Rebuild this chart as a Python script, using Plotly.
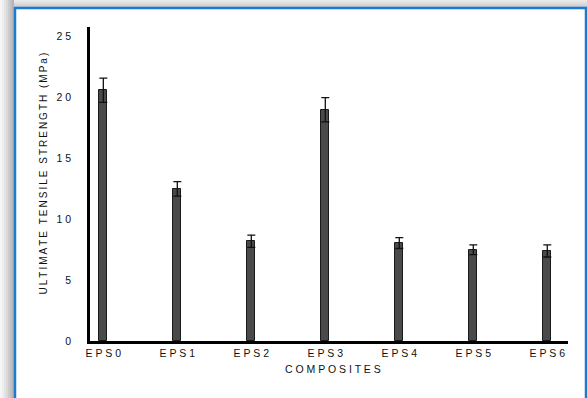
import plotly.graph_objects as go

categories = ["E P S 0", "E P S 1", "E P S 2", "E P S 3", "E P S 4", "E P S 5", "E P S 6"]
strength = [20.6, 12.5, 8.2, 19.0, 8.05, 7.5, 7.4]
errors = [1.0, 0.6, 0.5, 1.0, 0.45, 0.4, 0.5]
y_tick_vals = [0, 5, 10, 15, 20, 25]
y_tick_text = ["0", "5", "1 0", "1 5", "2 0", "2 5"]
x_title = "C O M P O S I T E S"
y_title = "ULTIMATE TENSILE STRENGTH (MPa)"

W, H = 587, 398
ML, MR, MT, MB = 90, 19, 27, 57
PW, PH = W - ML - MR, H - MT - MB

def px(x):
    return (x - ML) / PW

def py(y):
    return (H - MB - y) / PH

def spaced(s):
    return "\u2009".join(s)

positions = list(range(len(categories)))

fig = go.Figure()
fig.add_trace(go.Bar(
    x=positions, y=strength, width=0.108,
    marker=dict(color="#4a4a4a", line=dict(color="#1a1a1a", width=1)),
    error_y=dict(type="data", array=errors, visible=True, color="#111111",
                 thickness=1.3, width=4),
    showlegend=False,
))

shapes = []
grays_left = ["#f6f6f6", "#eeeeee", "#e4e4e4", "#d9d9d9", "#cccccc", "#c0c0c0", "#b4b4b4"]
for i, c in enumerate(grays_left):
    shapes.append(dict(type="rect", xref="paper", yref="paper",
                       x0=px(i * 2), x1=px(i * 2 + 2), y0=py(H), y1=py(0),
                       fillcolor=c, line=dict(width=0), layer="below"))
grays_top = ["#e8e8e8", "#dedede", "#d4d4d4", "#cacaca"]
for i, c in enumerate(grays_top):
    shapes.append(dict(type="rect", xref="paper", yref="paper",
                       x0=px(14), x1=px(W), y0=py(i * 2), y1=py(i * 2 + 2),
                       fillcolor=c, line=dict(width=0), layer="below"))
shapes.append(dict(type="line", xref="paper", yref="paper",
                   x0=px(15), x1=px(15), y0=py(7), y1=py(H + 2),
                   line=dict(color="#1b7bd3", width=2.5)))
shapes.append(dict(type="line", xref="paper", yref="paper",
                   x0=px(14), x1=px(587), y0=py(8), y1=py(8),
                   line=dict(color="#1b7bd3", width=2.5)))
shapes.append(dict(type="line", xref="paper", yref="paper",
                   x0=px(586), x1=px(586), y0=py(7), y1=py(H + 2),
                   line=dict(color="#1b7bd3", width=2.5)))

fig.update_layout(
    width=W, height=H,
    margin=dict(l=ML, r=MR, t=MT, b=MB),
    paper_bgcolor="white", plot_bgcolor="white",
    font=dict(family="Liberation Sans, Arial, sans-serif", color="#111111", size=10),
    shapes=shapes,
    bargap=0,
    xaxis=dict(
        range=[-0.18, 6.28], tickvals=positions, ticktext=categories,
        showgrid=False, zeroline=False, showline=True, linecolor="black", linewidth=2.5,
        ticks="", tickfont=dict(size=10.5), ticklabelstandoff=1,
    ),
    yaxis=dict(
        range=[0, 25.8], tickvals=y_tick_vals, ticktext=y_tick_text,
        showgrid=False, zeroline=False, showline=True, linecolor="black", linewidth=2.5,
        ticks="", tickfont=dict(size=10.5), ticklabelstandoff=14,
    ),
    annotations=[
        dict(text=x_title, xref="paper", yref="paper",
             x=px(332.5), y=py(377), showarrow=False, font=dict(size=10.5)),
        dict(text=spaced(y_title), xref="paper", yref="paper",
             x=px(35), y=py(174), textangle=-90, showarrow=False,
             font=dict(size=10)),
    ],
)

fig.write_html("out.html", config={"displayModeBar": False},
               post_script="document.body.style.margin='0';")
